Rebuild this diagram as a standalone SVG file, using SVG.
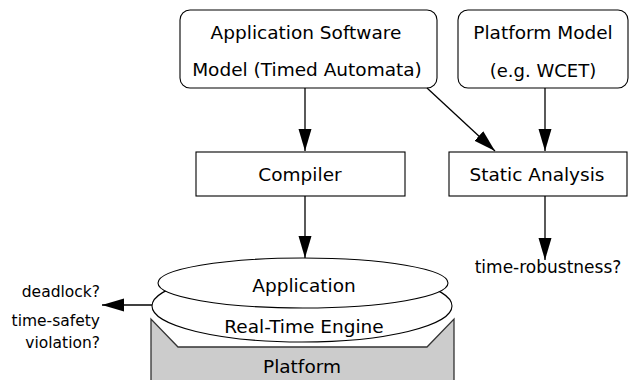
<svg xmlns="http://www.w3.org/2000/svg" width="631" height="380" viewBox="0 0 631 380">
<defs>
<style>
.box{fill:#fff;stroke:#000;stroke-width:1.1}
.t{font-family:"DejaVu Sans",sans-serif;font-size:18.5px;fill:#000;text-anchor:middle}
.s{font-family:"DejaVu Sans",sans-serif;font-size:15.5px;fill:#000}
.c{stroke:#000;stroke-width:1.3;fill:none}
</style>
<marker id="ah" markerUnits="userSpaceOnUse" markerWidth="24" markerHeight="14" refX="22" refY="6.5" orient="auto">
<path d="M0,0 L22,6.5 L0,13 z" fill="#000"/>
</marker>
</defs>
<g id="platform">
<path d="M151,380 L151,319 L178,347 L427,347 L454,319 L454,380" fill="#ccc" stroke="#333" stroke-width="1.3"/>
<text class="t" x="302" y="373">Platform</text>
</g>
<g id="rte">
<ellipse cx="302" cy="306" rx="150" ry="36" class="box"/>
<text class="t" x="304" y="333">Real-Time Engine</text>
</g>
<g id="application">
<ellipse cx="303" cy="283" rx="145" ry="25" class="box"/>
<text class="t" x="304" y="292">Application</text>
</g>
<g id="appmodel">
<rect x="180" y="10" width="257" height="78" rx="10" class="box"/>
<text class="t" x="306" y="39">Application Software</text>
<text class="t" x="307" y="76">Model (Timed Automata)</text>
</g>
<g id="platmodel">
<rect x="458" y="10" width="170" height="78" rx="10" class="box"/>
<text class="t" x="543" y="39">Platform Model</text>
<text class="t" x="543" y="77" style="font-size:18px">(e.g. WCET)</text>
</g>
<g id="compiler">
<rect x="196" y="152" width="209" height="44" class="box"/>
<text class="t" x="300" y="181">Compiler</text>
</g>
<g id="static">
<rect x="449" y="152" width="178" height="44" class="box"/>
<text class="t" x="537" y="181">Static Analysis</text>
</g>
<g id="labels">
<text class="s" x="548" y="273" text-anchor="middle" style="font-size:17px">time-robustness?</text>
<text class="s" x="100" y="297" text-anchor="end">deadlock?</text>
<text class="s" x="100" y="326" text-anchor="end">time-safety</text>
<text class="s" x="100" y="348" text-anchor="end">violation?</text>
</g>
<g id="connectors">
<line class="c" x1="305" y1="88" x2="305" y2="151" marker-end="url(#ah)"/>
<line class="c" x1="545" y1="88" x2="545" y2="151" marker-end="url(#ah)"/>
<line class="c" x1="427" y1="88" x2="495" y2="151" marker-end="url(#ah)"/>
<line class="c" x1="305" y1="196" x2="305" y2="258" marker-end="url(#ah)"/>
<line class="c" x1="545" y1="196" x2="545" y2="260" marker-end="url(#ah)"/>
<line class="c" x1="152" y1="305" x2="102" y2="305" marker-end="url(#ah)"/>
</g>
</svg>
